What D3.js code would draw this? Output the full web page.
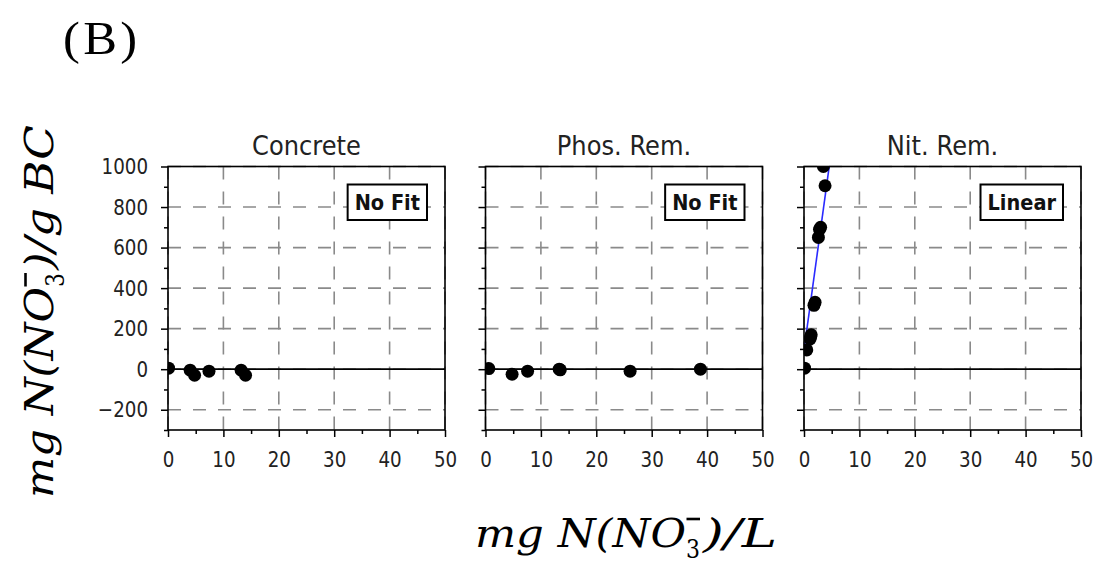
<!DOCTYPE html>
<html>
<head>
<meta charset="utf-8">
<script src="https://cdn.jsdelivr.net/npm/d3@7"></script>
<style>
  body { margin: 0; background: #fff; }
  svg { display: block; }
</style>
</head>
<body>
<svg id="chart" width="1100" height="566"></svg>
<script>
// panel names + fit label in the box
const panelTitles = ["Concrete", "Phos. Rem.", "Nit. Rem."];
const fitLabels = ["No Fit", "No Fit", "Linear"];

// isotherm points (x = mg N/L, y = mg N / g BC)
const concreteX = [0.1, 4.0, 4.8, 7.4, 13.2, 14.0];
const concreteY = [5, -5, -30, -10, -5, -30];
const phosX = [0.6, 4.8, 7.6, 13.3, 13.5, 26.1, 38.8];
const phosY = [3, -25, -10, 0, -3, -10, 0];
const nitX = [0.1, 0.5, 1.1, 1.3, 1.2, 1.8, 2.0, 2.6, 2.8, 3.0, 3.8, 3.5];
const nitY = [5, 95, 150, 170, 160, 315, 330, 650, 690, 700, 905, 1000];

// linear fit drawn for Nit. Rem. only (end points)
const nitFitX = [0, 4.6];
const nitFitY = [94, 1010];

const xTicks = [0, 10, 20, 30, 40, 50];
const xMinor = [5, 15, 25, 35, 45];
const yTicks = [-200, 0, 200, 400, 600, 800, 1000];
const yMinor = [-300, -100, 100, 300, 500, 700, 900];

const panelPts = [d3.zip(concreteX, concreteY), d3.zip(phosX, phosY), d3.zip(nitX, nitY)];
const fits = [null, null, d3.zip(nitFitX, nitFitY)];

const svg = d3.select("#chart");
const lefts = [168, 485.5, 804];
const pw = 277, plotTop = 166.5, plotBottom = 430;

const y = d3.scaleLinear().domain([-300, 1000]).range([plotBottom, plotTop]);

const tickFont = "DejaVu Sans";
const tickSize = 22, tickSx = 0.83;

lefts.forEach(function(left, i) {
    const x = d3.scaleLinear().domain([0, 50]).range([left, left + pw]);
    const g = svg.append("g");

    g.append("clipPath").attr("id", "clip" + i)
        .append("rect")
        .attr("x", left).attr("y", plotTop)
        .attr("width", pw).attr("height", plotBottom - plotTop);

    // dashed grid
    g.selectAll(".vg").data(xTicks).enter().append("line")
        .attr("x1", function(d) { return x(d); })
        .attr("x2", function(d) { return x(d); })
        .attr("y1", plotTop).attr("y2", plotBottom)
        .attr("stroke", "#8a8a8a").attr("stroke-width", 1.6)
        .attr("stroke-dasharray", "13,12");
    g.selectAll(".hg").data(yTicks).enter().append("line")
        .attr("x1", left).attr("x2", left + pw)
        .attr("y1", function(d) { return y(d); })
        .attr("y2", function(d) { return y(d); })
        .attr("stroke", "#8a8a8a").attr("stroke-width", 1.6)
        .attr("stroke-dasharray", "13,12");

    // zero line
    g.append("line")
        .attr("x1", left).attr("x2", left + pw)
        .attr("y1", y(0)).attr("y2", y(0))
        .attr("stroke", "#000").attr("stroke-width", 1.8);

    // fit line
    if (fits[i]) {
        g.append("path").datum(fits[i])
            .attr("clip-path", "url(#clip" + i + ")")
            .attr("fill", "none").attr("stroke", "#2a2aff").attr("stroke-width", 1.6)
            .attr("d", d3.line().x(function(d) { return x(d[0]); }).y(function(d) { return y(d[1]); }));
    }

    // points
    g.append("g").attr("clip-path", "url(#clip" + i + ")")
        .selectAll("circle").data(panelPts[i]).enter().append("circle")
        .attr("cx", function(d) { return x(d[0]); })
        .attr("cy", function(d) { return y(d[1]); })
        .attr("r", 6.5)
        .attr("fill", "#000");

    // spine
    g.append("rect")
        .attr("x", left).attr("y", plotTop)
        .attr("width", pw).attr("height", plotBottom - plotTop)
        .attr("fill", "none").attr("stroke", "#000").attr("stroke-width", 1.6);

    // x axis, major + minor
    const xa = g.append("g").attr("transform", "translate(0," + plotBottom + ")")
        .call(d3.axisBottom(x).tickValues(xTicks).tickSize(7).tickSizeOuter(0).tickPadding(14));
    g.append("g").attr("transform", "translate(0," + plotBottom + ")")
        .call(d3.axisBottom(x).tickValues(xMinor).tickSize(4).tickSizeOuter(0).tickFormat(""));

    // y axis
    const ya = g.append("g").attr("transform", "translate(" + left + ",0)")
        .call(d3.axisLeft(y).tickValues(yTicks).tickSize(7).tickSizeOuter(0)
            .tickFormat(i === 0 ? function(d) { return d < 0 ? "\u2212" + Math.abs(d) : d; } : ""));
    g.append("g").attr("transform", "translate(" + left + ",0)")
        .call(d3.axisLeft(y).tickValues(yMinor).tickSize(4).tickSizeOuter(0).tickFormat(""));

    g.selectAll(".domain").remove();
    g.selectAll(".tick line").attr("stroke", "#000").attr("stroke-width", 1.5);

    xa.selectAll("text")
        .attr("font-family", tickFont).attr("font-size", tickSize).attr("fill", "#222")
        .attr("dy", "0.71em")
        .attr("transform", "scale(" + tickSx + ",1)");
    ya.selectAll("text")
        .attr("font-family", tickFont).attr("font-size", tickSize).attr("fill", "#222")
        .attr("x", -20 / tickSx)
        .attr("transform", "scale(" + tickSx + ",1)");

    // title
    g.append("text")
        .attr("transform", "translate(" + (left + pw / 2) + ",155) scale(0.93,1)")
        .attr("text-anchor", "middle")
        .attr("font-family", tickFont).attr("font-size", 26).attr("fill", "#222")
        .text(panelTitles[i]);

    // fit box, right aligned
    const bx = g.append("g");
    const bt = bx.append("text")
        .attr("transform", "translate(" + (left + pw - 18 - 7) + ",210) scale(0.88,1)")
        .attr("text-anchor", "end")
        .attr("font-family", tickFont).attr("font-weight", "bold")
        .attr("font-size", 22).attr("fill", "#111")
        .text(fitLabels[i]);
    const w = bt.node().getComputedTextLength() * 0.88;
    bx.insert("rect", "text")
        .attr("x", left + pw - 18 - 7 - w - 7).attr("y", 184.5)
        .attr("width", w + 14).attr("height", 35.5)
        .attr("fill", "#fff").attr("stroke", "#000").attr("stroke-width", 2);
});

// figure letter
svg.append("text")
    .attr("transform", "translate(63,54) scale(1.1,1)")
    .attr("font-family", "Liberation Serif").attr("font-size", 46)
    .attr("letter-spacing", 3)
    .text("(B)");

// math-style axis labels: "mg N(NO" + sub 3 with bar + rest
function mathLabel(parent, rest, restLen) {
    parent.append("text")
        .attr("x", 0).attr("y", 0)
        .attr("font-family", "DejaVu Serif").attr("font-style", "italic").attr("font-size", 40)
        .attr("textLength", 211).attr("lengthAdjust", "spacingAndGlyphs")
        .text("mg N(NO");
    parent.append("text")
        .attr("x", 211).attr("y", 11)
        .attr("font-family", "DejaVu Serif").attr("font-size", 26)
        .attr("textLength", 14).attr("lengthAdjust", "spacingAndGlyphs")
        .text("3");
    parent.append("line")
        .attr("x1", 211.5).attr("x2", 225)
        .attr("y1", -27.5).attr("y2", -27.5)
        .attr("stroke", "#000").attr("stroke-width", 2.6);
    parent.append("text")
        .attr("x", 228).attr("y", 0)
        .attr("font-family", "DejaVu Serif").attr("font-style", "italic").attr("font-size", 40)
        .attr("textLength", restLen).attr("lengthAdjust", "spacingAndGlyphs")
        .text(rest);
}

mathLabel(svg.append("g").attr("transform", "translate(475,546.5)"), ")/L", 74);
mathLabel(svg.append("g").attr("transform", "translate(53,498) rotate(-90)"), ")/g BC", 145);
</script>
</body>
</html>
